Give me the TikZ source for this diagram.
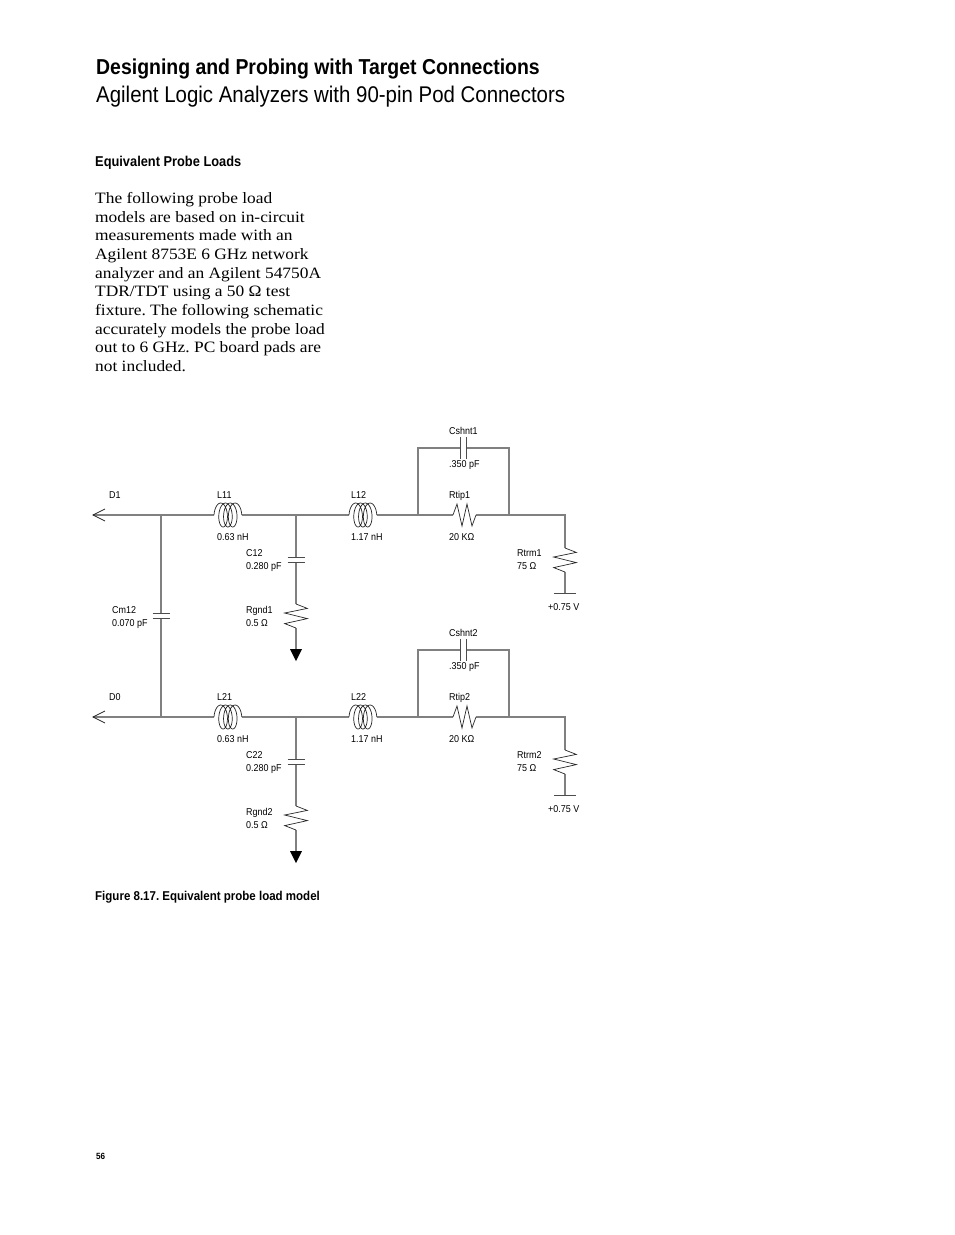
\documentclass[tikz,border=0pt]{standalone}
\usepackage{fontspec}
\setmainfont[FakeStretch=1.1]{Liberation Serif}
\newfontfamily\univ[FakeStretch=0.9]{Liberation Sans}
\usetikzlibrary{calc}
\tikzset{
    wire/.style={draw=black!50, line width=1.2pt},
    part/.style={draw=black!85, line width=0.7pt},
    plate/.style={draw=black!70, line width=1pt},
    lbl/.style={anchor=base west, inner sep=0pt, align=left, font=\univ\fontsize{9.96}{12.6}\selectfont},
    head/.style={anchor=base west, inner sep=0pt, font=\univ\bfseries\fontsize{#1}{#1}\selectfont}
}
% coil and zigzag, both start at the coordinate given
\newcommand{\coilat}[1]{\draw[part, shift={(#1)}] plot[smooth, samples=100, domain=0:1260, variable=\u] ({5.5-5.5*cos(\u)+4.8*\u/360},{-12*sin(\u)});}
\newcommand{\zigdown}[1]{\draw[part, shift={(#1)}] (0,0) -- (11.3,4.4) -- (-11.3,9) -- (11.3,14.6) -- (-11.3,19.6) -- (0,24);}
\frenchspacing
\begin{document}
\begin{tikzpicture}[x=1pt, y=-1pt]
\useasboundingbox[fill=white] (0,0) rectangle (954,1235);
\node[head=21.6] (title) at (96,74) {Designing and Probing with Target Connections};
\node[anchor=base west, inner sep=0pt, font=\univ\fontsize{22.7}{22.7}\selectfont] (subtitle) at (96,102) {Agilent Logic Analyzers with 90-pin Pod Connectors};
\node[head=14.25] (section) at (95,166) {Equivalent Probe Loads};
\node[anchor=north west, inner sep=0pt, align=left, font=\fontsize{15.8}{18.7}\selectfont] (para) at (95,192) {The following probe load\\models are based on in-circuit\\measurements made with an\\Agilent 8753E 6 GHz network\\analyzer and an Agilent 54750A\\TDR/TDT using a 50 Ω test\\fixture. The following schematic\\accurately models the probe load\\out to 6 GHz. PC board pads are\\not included.};
\node[head=12.8] (caption) at (95,900) {Figure 8.17. Equivalent probe load model};
\node[head=9] (page) at (96,1159) {56};
\foreach \n/\dy/\d/\a/\b/\c in {1/0/D1/11/12/12, 2/202/D0/21/22/22}{
\begin{scope}[shift={(0,\dy)}]
    \foreach \x/\p in {93/tip, 161/ja, 214/lai, 242/lao, 296/jb, 349/lbi, 377/lbo, 418/jc, 453/ri, 476/ro, 509/jd, 565/je}{
        \coordinate (\p\n) at (\x,515);
    }
    \coordinate (cu\n) at (418,448);
    \coordinate (cv\n) at (509,448);
    \coordinate (cl\n) at (460,448);
    \coordinate (cr\n) at (466.5,448);
    \coordinate (rta\n) at (565,548);
    \coordinate (rtb\n) at (565,572);
    \coordinate (vt\n) at (565,593);
    \coordinate (cga\n) at (296,557);
    \coordinate (cgb\n) at (296,562.5);
    \coordinate (rga\n) at (296,604);
    \coordinate (rgb\n) at (296,628);
    \coordinate (gnd\n) at (296,649);
    % wires
    \draw[wire] (tip\n) -- (lai\n);
    \draw[wire] (lao\n) -- (lbi\n);
    \draw[wire] (lbo\n) -- (ri\n);
    \draw[wire] (ro\n) -- (je\n) -- (rta\n);
    \draw[wire] (rtb\n) -- (vt\n);
    \draw[wire] (jc\n) -- (cu\n) -- (cl\n);
    \draw[wire] (cr\n) -- (cv\n) -- (jd\n);
    \draw[wire] (jb\n) -- (cga\n);
    \draw[wire] (cgb\n) -- (rga\n);
    \draw[wire] (rgb\n) -- (gnd\n);
    % parts
    \draw[part] ($(tip\n)+(12,-6)$) -- (tip\n) -- ($(tip\n)+(12,6)$);
    \coilat{lai\n}
    \coilat{lbi\n}
    \draw[part] (ri\n) -- ++(4,-11) -- ++(5,22) -- ++(5,-22) -- ++(5,22) -- (ro\n);
    \zigdown{rga\n}
    \zigdown{rta\n}
    \draw[plate] ($(cl\n)+(0,-11)$) -- ($(cl\n)+(0,11)$);
    \draw[plate] ($(cr\n)+(0,-11)$) -- ($(cr\n)+(0,11)$);
    \draw[plate] ($(cga\n)+(-8.5,0)$) -- ($(cga\n)+(8.5,0)$);
    \draw[plate] ($(cgb\n)+(-8.5,0)$) -- ($(cgb\n)+(8.5,0)$);
    \draw[plate] ($(vt\n)+(-11,0)$) -- ($(vt\n)+(11,0)$);
    \fill[black] (gnd\n) ++(-6,0) -- ++(12,0) -- ++(-6,12) -- cycle;
    % labels
    \node[lbl] (dname\n) at (109,498) {\d};
    \node[lbl] (la\n) at (217,498) {L\a};
    \node[lbl] (lav\n) at (217,540) {0.63 nH};
    \node[lbl] (c\n) at (246,569) {C\c\\0.280 pF};
    \node[lbl] (rg\n) at (246,626) {Rgnd\n\\0.5 Ω};
    \node[lbl] (lb\n) at (351,498) {L\b};
    \node[lbl] (lbv\n) at (351,540) {1.17 nH};
    \node[lbl] (cs\n) at (449,434) {Cshnt\n};
    \node[lbl] (csv\n) at (449,467) {.350 pF};
    \node[lbl] (rt\n) at (449,498) {Rtip\n};
    \node[lbl] (rtv\n) at (449,540) {20 KΩ};
    \node[lbl] (rm\n) at (517,569) {Rtrm\n\\75 Ω};
    \node[lbl] (vv\n) at (548,610) {+0.75 V};
\end{scope}
}
% coupling capacitor between the two lines
\coordinate (cma) at (161,613);
\coordinate (cmb) at (161,618.5);
\draw[wire] (ja1) -- (cma);
\draw[wire] (cmb) -- (ja2);
\draw[plate] ($(cma)+(-8.5,0)$) -- ($(cma)+(8.5,0)$);
\draw[plate] ($(cmb)+(-8.5,0)$) -- ($(cmb)+(8.5,0)$);
\node[lbl] (cm) at (112,626) {Cm12\\0.070 pF};
\end{tikzpicture}
\end{document}
